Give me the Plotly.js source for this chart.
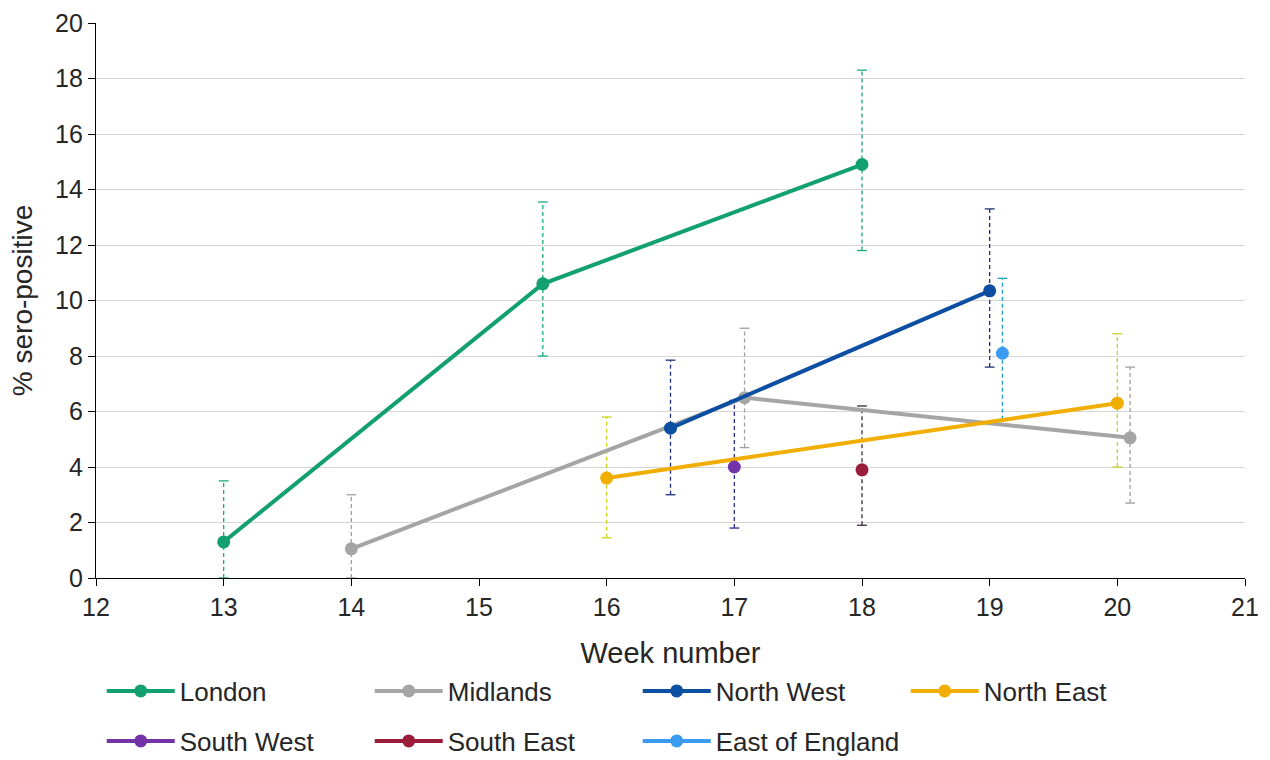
<!DOCTYPE html>
<html>
<head>
<meta charset="utf-8">
<script src="https://cdn.plot.ly/plotly-3.0.1.min.js"></script>
<style>html,body{margin:0;padding:0;background:#fff;}#chart{width:1270px;height:760px;}</style>
</head>
<body>
<div id="chart"></div>
<script>
// Region series: week, % sero-positive, lower and upper confidence limits
const regions = ["London", "Midlands", "North West", "North East", "South West", "South East", "East of England"];

const londonWeek = [13, 15.5, 18];
const londonVal = [1.3, 10.6, 14.9];
const londonLo = [0, 8.0, 11.8];
const londonHi = [3.5, 13.55, 18.3];

const midlandsWeek = [14, 17.08, 20.1];
const midlandsVal = [1.05, 6.5, 5.05];
const midlandsLo = [0, 4.7, 2.7];
const midlandsHi = [3.0, 9.0, 7.6];

const northWestWeek = [16.5, 19];
const northWestVal = [5.4, 10.35];
const northWestLo = [3.0, 7.6];
const northWestHi = [7.85, 13.3];

const northEastWeek = [16, 20];
const northEastVal = [3.6, 6.3];
const northEastLo = [1.45, 4.0];
const northEastHi = [5.8, 8.8];

const southWestWeek = [17];
const southWestVal = [4.0];
const southWestLo = [1.8];
const southWestHi = [6.4];

const southEastWeek = [18];
const southEastVal = [3.9];
const southEastLo = [1.9];
const southEastHi = [6.2];

const eastWeek = [19.1];
const eastVal = [8.1];
const eastLo = [5.7];
const eastHi = [10.8];

const xTicks = [12, 13, 14, 15, 16, 17, 18, 19, 20, 21];
const yTicks = [0, 2, 4, 6, 8, 10, 12, 14, 16, 18, 20];

const series = [
  {name: regions[0], x: londonWeek, y: londonVal, lo: londonLo, hi: londonHi, color: "#12A070", err: "#1AAA7A", legend: "legend"},
  {name: regions[1], x: midlandsWeek, y: midlandsVal, lo: midlandsLo, hi: midlandsHi, color: "#A5A5A5", err: "#A0A0A0", legend: "legend"},
  {name: regions[2], x: northWestWeek, y: northWestVal, lo: northWestLo, hi: northWestHi, color: "#0B4EA2", err: "#1E2E7A", legend: "legend"},
  {name: regions[3], x: northEastWeek, y: northEastVal, lo: northEastLo, hi: northEastHi, color: "#F2AE00", err: "#C6D21A", legend: "legend"},
  {name: regions[4], x: southWestWeek, y: southWestVal, lo: southWestLo, hi: southWestHi, color: "#7232A8", err: "#2A2A8A", legend: "legend2"},
  {name: regions[5], x: southEastWeek, y: southEastVal, lo: southEastLo, hi: southEastHi, color: "#9A1E3C", err: "#3A2A3A", legend: "legend2"},
  {name: regions[6], x: eastWeek, y: eastVal, lo: eastLo, hi: eastHi, color: "#3A9CF0", err: "#1AA0C0", legend: "legend2"}
];

const traces = [];
// dashed confidence intervals
series.forEach(s => {
  const ex = [], ey = [];
  s.x.forEach((xv, i) => { ex.push(xv, xv, null); ey.push(s.lo[i], s.hi[i], null); });
  traces.push({
    x: ex, y: ey, type: "scatter", mode: "lines+markers", showlegend: false, hoverinfo: "skip",
    line: {color: s.err, width: 1.3, dash: "4px,3px"},
    marker: {symbol: "line-ew", size: 7, line: {color: s.err, width: 1.3}}
  });
});
// main series
series.forEach(s => {
  traces.push({
    x: s.x, y: s.y, name: s.name, type: "scatter", mode: "lines+markers", legend: s.legend,
    line: {color: s.color, width: 4},
    marker: {color: s.color, size: 13}
  });
});

const fam = "Liberation Sans, Arial, sans-serif";
const txt = "#262626";

const legendBase = {
  orientation: "h", x: 0.005, xanchor: "left", yanchor: "middle",
  entrywidth: 185, entrywidthmode: "pixels", font: {size: 26, family: fam, color: txt},
  itemwidth: 68, bgcolor: "rgba(0,0,0,0)"
};

const layout = {
  width: 1270, height: 760,
  margin: {l: 96, r: 25, t: 23, b: 182, autoexpand: false},
  paper_bgcolor: "#fff", plot_bgcolor: "#fff",
  font: {family: fam, color: txt, size: 24},
  xaxis: {
    range: [12, 21], tickvals: xTicks, ticktext: xTicks.map(String),
    showgrid: false, zeroline: false, showline: true, linecolor: "#000", linewidth: 1.2,
    ticks: "outside", ticklen: 7, tickcolor: "#000",
    tickfont: {size: 25, family: fam, color: txt},
    title: {text: "Week number", font: {size: 29, family: fam, color: txt}, standoff: 22}
  },
  yaxis: {
    range: [0, 20], tickvals: yTicks, ticktext: yTicks.map(String),
    showgrid: true, gridcolor: "#D6D6D6", gridwidth: 1, zeroline: false,
    showline: true, linecolor: "#000", linewidth: 1.2,
    ticks: "outside", ticklen: 7, tickcolor: "#000",
    tickfont: {size: 25, family: fam, color: txt},
    title: {text: "% sero-positive", font: {size: 28, family: fam, color: txt}, standoff: 14}
  },
  legend: Object.assign({}, legendBase, {y: -0.2036}),
  legend2: Object.assign({}, legendBase, {y: -0.2937}),
  showlegend: true
};

Plotly.newPlot("chart", traces, layout, {displayModeBar: false, staticPlot: true});
</script>
</body>
</html>
